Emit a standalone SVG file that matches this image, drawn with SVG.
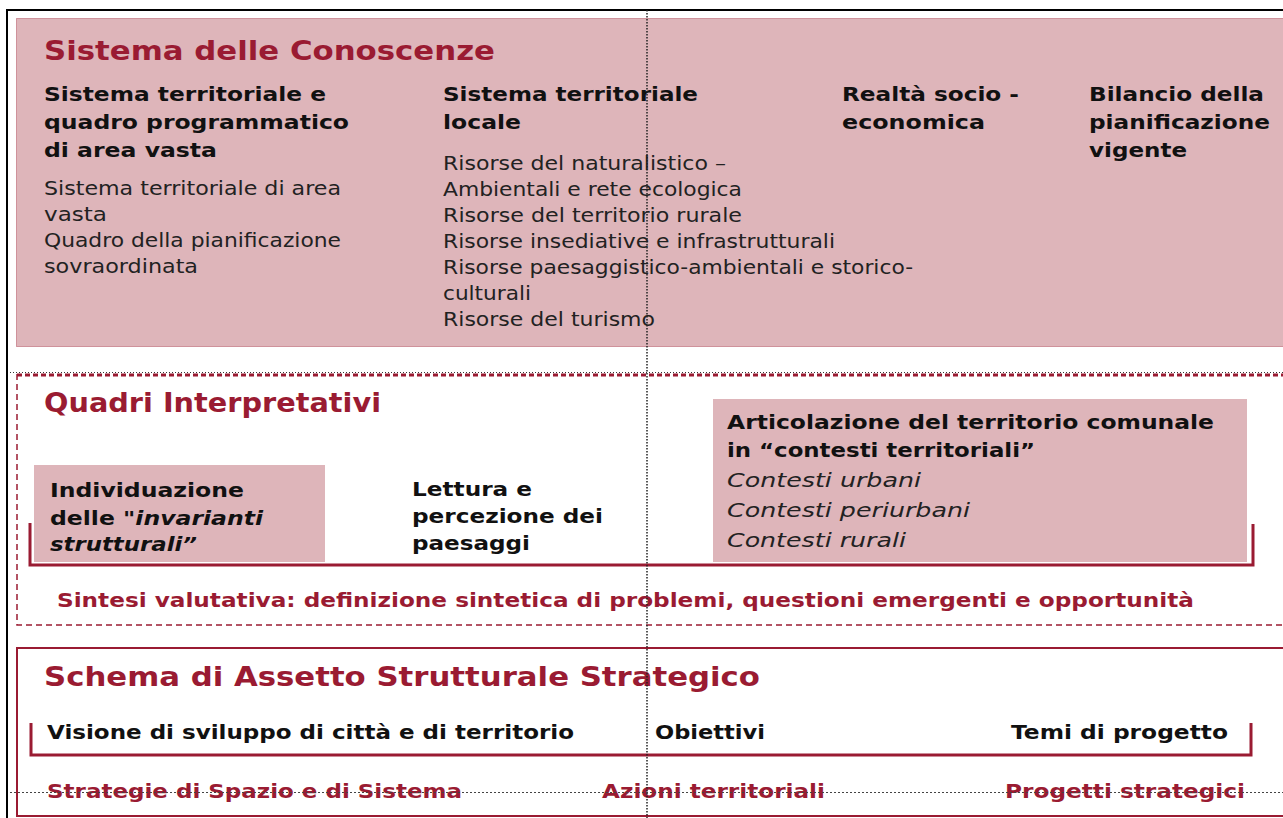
<svg xmlns="http://www.w3.org/2000/svg" width="1283" height="818" viewBox="0 0 1283 818">
<style>
text{font-family:"DejaVu Sans","Liberation Sans",sans-serif;}
.t{font-size:27px;font-weight:bold;fill:#9A1B32;}
.h{font-size:20px;font-weight:bold;fill:#111;}
.b{font-size:20px;fill:#222;}
.i{font-size:20px;font-style:italic;fill:#222;}
.r{font-size:20px;font-weight:bold;fill:#9A1B32;}
.pink{fill:#DEB5BA;}
.br{fill:none;stroke:#9A1B32;stroke-width:3;}
</style>
<rect width="1283" height="818" fill="#fff"/>
<g id="frame">
<path d="M7,818 V10 H1283" fill="none" stroke="#000" stroke-width="2"/>
</g>
<g id="conoscenze">
<rect x="16.5" y="18.5" width="1280" height="328" class="pink" stroke="#B04A5A" stroke-width="1" stroke-dasharray="1 1"/>
<text class="t" x="44" y="60" textLength="451" lengthAdjust="spacingAndGlyphs">Sistema delle Conoscenze</text>
<g id="col1">
<text class="h" x="44" y="101" textLength="282" lengthAdjust="spacingAndGlyphs">Sistema territoriale e</text>
<text class="h" x="44" y="129" textLength="305" lengthAdjust="spacingAndGlyphs">quadro programmatico</text>
<text class="h" x="44" y="157" textLength="173" lengthAdjust="spacingAndGlyphs">di area vasta</text>
<text class="b" x="44" y="195" textLength="297" lengthAdjust="spacingAndGlyphs">Sistema territoriale di area</text>
<text class="b" x="44" y="221" textLength="63" lengthAdjust="spacingAndGlyphs">vasta</text>
<text class="b" x="44" y="247" textLength="297" lengthAdjust="spacingAndGlyphs">Quadro della pianificazione</text>
<text class="b" x="44" y="273" textLength="154" lengthAdjust="spacingAndGlyphs">sovraordinata</text>
</g>
<g id="col2">
<text class="h" x="443" y="101" textLength="255" lengthAdjust="spacingAndGlyphs">Sistema territoriale</text>
<text class="h" x="443" y="129" textLength="78" lengthAdjust="spacingAndGlyphs">locale</text>
<text class="b" x="443" y="170" textLength="283" lengthAdjust="spacingAndGlyphs">Risorse del naturalistico –</text>
<text class="b" x="443" y="196" textLength="299" lengthAdjust="spacingAndGlyphs">Ambientali e rete ecologica</text>
<text class="b" x="443" y="222" textLength="299" lengthAdjust="spacingAndGlyphs">Risorse del territorio rurale</text>
<text class="b" x="443" y="248" textLength="392" lengthAdjust="spacingAndGlyphs">Risorse insediative e infrastrutturali</text>
<text class="b" x="443" y="274" textLength="470" lengthAdjust="spacingAndGlyphs">Risorse paesaggistico-ambientali e storico-</text>
<text class="b" x="443" y="300" textLength="88" lengthAdjust="spacingAndGlyphs">culturali</text>
<text class="b" x="443" y="326" textLength="212" lengthAdjust="spacingAndGlyphs">Risorse del turismo</text>
</g>
<g id="col3">
<text class="h" x="842" y="101" textLength="177" lengthAdjust="spacingAndGlyphs">Realtà socio -</text>
<text class="h" x="842" y="129" textLength="143" lengthAdjust="spacingAndGlyphs">economica</text>
</g>
<g id="col4">
<text class="h" x="1089" y="101" textLength="175" lengthAdjust="spacingAndGlyphs">Bilancio della</text>
<text class="h" x="1089" y="129" textLength="181" lengthAdjust="spacingAndGlyphs">pianificazione</text>
<text class="h" x="1089" y="157" textLength="98" lengthAdjust="spacingAndGlyphs">vigente</text>
</g>
</g>
<g id="quadri">
<path d="M17,374 V625 H1283" fill="none" stroke="#9A1B32" stroke-width="1.5" stroke-dasharray="6 4"/>
<line x1="10" y1="372.5" x2="1283" y2="372.5" stroke="#333" stroke-width="1" stroke-dasharray="1 2"/>
<line x1="17" y1="375" x2="1283" y2="375" stroke="#9A1B32" stroke-width="3" stroke-dasharray="5 3"/>
<text class="t" x="44" y="412" textLength="337" lengthAdjust="spacingAndGlyphs">Quadri  Interpretativi</text>
<g id="invarianti">
<rect x="34" y="465" width="291" height="97" class="pink"/>
<text class="h" x="50" y="497" textLength="194" lengthAdjust="spacingAndGlyphs">Individuazione</text>
<text class="h" x="50" y="525" textLength="213" lengthAdjust="spacingAndGlyphs">delle "<tspan font-style="italic">invarianti</tspan></text>
<text class="h" x="50" y="551" font-style="italic" textLength="147" lengthAdjust="spacingAndGlyphs">strutturali”</text>
</g>
<g id="paesaggi">
<text class="h" x="412" y="496" textLength="120" lengthAdjust="spacingAndGlyphs">Lettura e</text>
<text class="h" x="412" y="523" textLength="191" lengthAdjust="spacingAndGlyphs">percezione dei</text>
<text class="h" x="412" y="550" textLength="118" lengthAdjust="spacingAndGlyphs">paesaggi</text>
</g>
<g id="articolazione">
<rect x="713" y="399" width="534" height="163" class="pink"/>
<text class="h" x="727" y="429" textLength="487" lengthAdjust="spacingAndGlyphs">Articolazione del territorio  comunale</text>
<text class="h" x="727" y="457" textLength="308" lengthAdjust="spacingAndGlyphs">in “contesti territoriali”</text>
<text class="i" x="727" y="487" textLength="194" lengthAdjust="spacingAndGlyphs">Contesti urbani</text>
<text class="i" x="727" y="517" textLength="243" lengthAdjust="spacingAndGlyphs">Contesti periurbani</text>
<text class="i" x="727" y="547" textLength="179" lengthAdjust="spacingAndGlyphs">Contesti rurali</text>
</g>
<g id="sintesi">
<text class="r" x="57" y="607" textLength="1137" lengthAdjust="spacingAndGlyphs">Sintesi valutativa: definizione sintetica di problemi, questioni emergenti e opportunità</text>
</g>
</g>
<g id="schema">
<rect x="17" y="648" width="1280" height="168" fill="none" stroke="#9A1B32" stroke-width="2"/>
<text class="t" x="44" y="686" textLength="716" lengthAdjust="spacingAndGlyphs">Schema di Assetto Strutturale Strategico</text>
<text class="h" x="47" y="739" textLength="527" lengthAdjust="spacingAndGlyphs">Visione di sviluppo di città e di territorio</text>
<text class="h" x="655" y="739" textLength="110" lengthAdjust="spacingAndGlyphs">Obiettivi</text>
<text class="h" x="1011" y="739" textLength="217" lengthAdjust="spacingAndGlyphs">Temi di progetto</text>
<text class="r" x="47" y="798" textLength="415" lengthAdjust="spacingAndGlyphs">Strategie di Spazio e di Sistema</text>
<text class="r" x="602" y="798" textLength="223" lengthAdjust="spacingAndGlyphs">Azioni territoriali</text>
<text class="r" x="1005" y="798" textLength="240" lengthAdjust="spacingAndGlyphs">Progetti strategici</text>
</g>
<g id="connectors">
<path class="br" d="M30,523 V565 H1253 V524"/>
<path class="br" d="M31,723 V755 H1251 V723"/>
<line x1="10" y1="792.5" x2="1283" y2="792.5" stroke="#444" stroke-width="1" stroke-dasharray="2 2"/>
<line x1="647" y1="10" x2="647" y2="818" stroke="#222" stroke-width="1.5" stroke-dasharray="1.5 1.5"/>
</g>
</svg>
